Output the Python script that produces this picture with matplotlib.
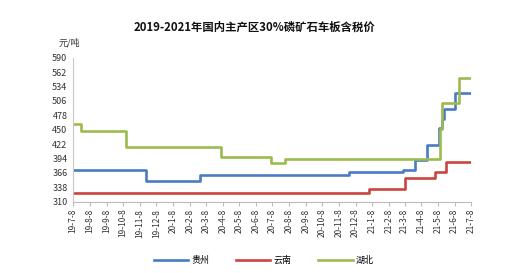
import numpy as np, pandas as pd, matplotlib; matplotlib.use("Agg"); import matplotlib.pyplot as plt
plt.rcParams['font.family'] = ['Noto Sans CJK SC', 'DejaVu Sans']
# step-change points (date of change, new price)
gz_dates = ['2019-07-08','2019-11-20','2020-02-27','2020-11-26','2021-03-06','2021-03-28',
            '2021-04-19','2021-05-10','2021-05-16','2021-05-20','2021-06-08','2021-07-08']
gz_vals = [371,351,361,367,372,392,421,454,471,491,522,522]
yn_dates = ['2019-07-08','2021-01-02','2021-03-09','2021-05-03','2021-05-24','2021-07-08']
yn_vals = [326,334,356,367,387,387]
hb_dates = ['2019-07-08','2019-07-23','2019-10-13','2020-04-05','2020-07-06','2020-08-01',
            '2021-05-12','2021-05-16','2021-06-16','2021-07-08']
hb_vals = [462,447,416,397,385,393,451,501,551,551]
series = [("贵州",gz_dates,gz_vals,"#4a7cc4"),("云南",yn_dates,yn_vals,"#c9453f"),("湖北",hb_dates,hb_vals,"#9bbb4f")]
yticks = np.arange(310,591,28)
xticks = pd.date_range('2019-07-01','2021-07-01',freq='MS')+pd.Timedelta(days=7)

fig = plt.figure(figsize=(5.17,2.73),dpi=100)
ax = fig.add_axes([0.1412,0.2612,0.7698,0.5274])
for name,d,v,c in series:
    ax.plot(pd.to_datetime(d),v,drawstyle='steps-post',color=c,lw=1.9,label=name)
ax.set_xlim(pd.Timestamp('2019-07-08'),pd.Timestamp('2021-07-08'))
ax.set_ylim(310,590); ax.set_yticks(yticks)
ax.set_xticks(xticks); ax.set_xticklabels([f"{t.year%100}-{t.month}-{t.day}" for t in xticks],rotation=90,fontsize=6)
ax.tick_params(axis='y',length=0,labelsize=6.5,colors='#333333',pad=4)
ax.tick_params(axis='x',length=3,color='#bbbbbb',labelcolor='#333333',pad=2)
for s in ['top','right']: ax.spines[s].set_visible(False)
ax.spines['left'].set_color('#c8c8c8'); ax.spines['bottom'].set_color('#bbbbbb')
fig.text(0.492,0.9,"2019-2021年国内主产区30%磷矿石车板含税价",ha='center',va='center',fontsize=8.2,fontweight='bold',color='#111111')
fig.text(0.135,0.845,"元/吨",ha='center',va='center',fontsize=6.5,color='#333333')
fig.legend(loc='center',bbox_to_anchor=(0.51,0.045),ncol=3,frameon=False,fontsize=6.5,
           handlelength=3.8,columnspacing=3,handletextpad=0.3)
fig.savefig("out.png",dpi=100)
